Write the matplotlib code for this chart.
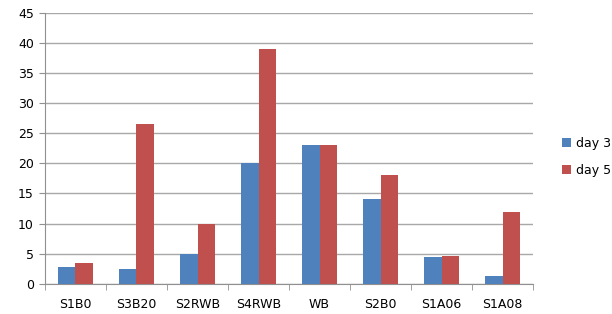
import matplotlib
matplotlib.use("Agg")
import matplotlib.pyplot as plt
import numpy as np

# values
samples = ["S1B0", "S3B20", "S2RWB", "S4RWB", "WB", "S2B0", "S1A06", "S1A08"]
day3 = [2.8, 2.5, 5.0, 20.0, 23.0, 14.0, 4.4, 1.2]
day5 = [3.4, 26.6, 10.0, 39.0, 23.0, 18.0, 4.6, 12.0]
yticks = [0, 5, 10, 15, 20, 25, 30, 35, 40, 45]

plt.rcParams["font.family"] = ["DejaVu Sans"]
fig = plt.figure(figsize=(6.12, 3.14), dpi=100)
ax = fig.add_axes([0.0735, 0.0965, 0.7975, 0.862])

x = np.arange(len(samples))
w = 0.285
ax.bar(x - w / 2, day3, w, color="#4F81BD", label="day 3", zorder=3)
ax.bar(x + w / 2, day5, w, color="#C0504D", label="day 5", zorder=3)

ax.set_xlim(-0.5, len(samples) - 0.5)
ax.set_ylim(0, 45)
ax.set_yticks(yticks)
ax.yaxis.grid(True, color="#a8a8a8", linewidth=1, zorder=0)
ax.set_xticks(x)
ax.set_xticklabels(samples)
ax.set_xticks(np.arange(len(samples) + 1) - 0.5, minor=True)
ax.tick_params(axis="x", which="major", length=0, pad=10, labelsize=9)
ax.tick_params(axis="x", which="minor", length=4, color="#909090")
ax.tick_params(axis="y", length=4, color="#909090", labelsize=9, pad=4)
for s in ["top", "right"]:
    ax.spines[s].set_visible(False)
for s in ["left", "bottom"]:
    ax.spines[s].set_color("#909090")

fig.legend(loc="center left", bbox_to_anchor=(0.9, 0.5), frameon=False,
           handlelength=0.7, handleheight=0.7, handletextpad=0.4,
           labelspacing=1.1, fontsize=9)

fig.savefig("out.png", dpi=100)
